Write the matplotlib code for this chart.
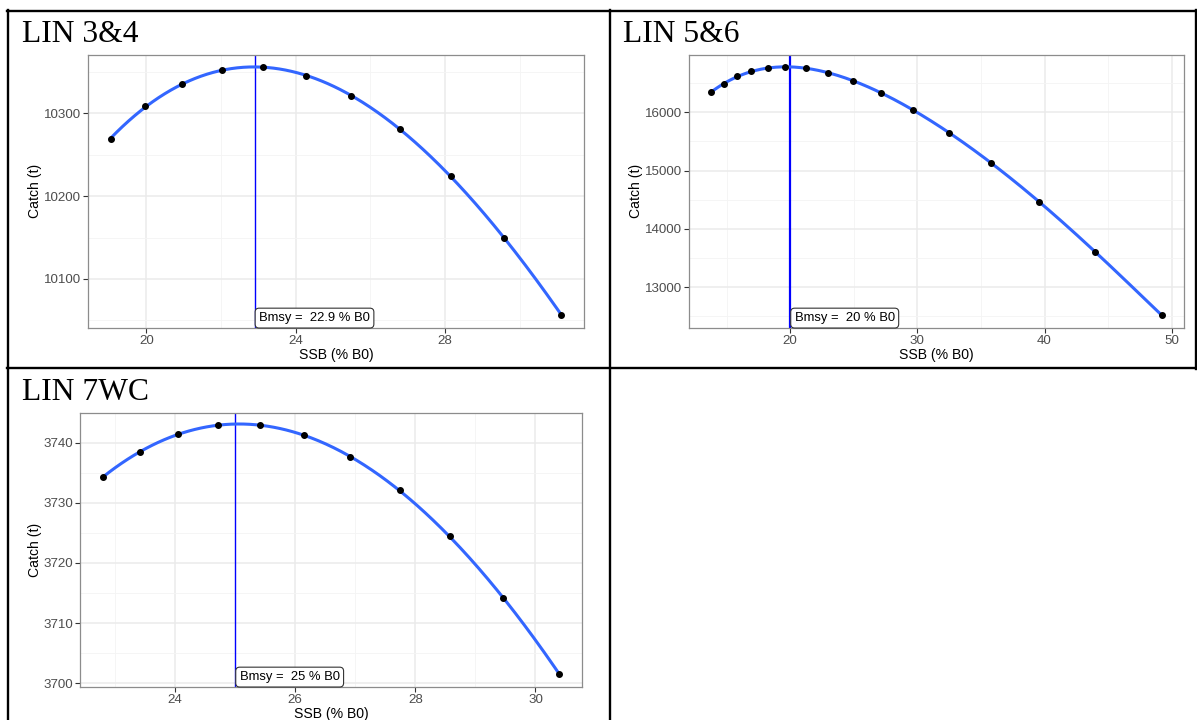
import numpy as np
import matplotlib
matplotlib.use('Agg')
import matplotlib.pyplot as plt
from matplotlib.lines import Line2D
from matplotlib.ticker import MultipleLocator

plt.rcParams['font.family'] = 'Liberation Sans'

# Data
titles = ['LIN 3&4', 'LIN 5&6', 'LIN 7WC']

lin34_ssb = [19.04, 19.97, 20.96, 22.02, 23.12, 24.27, 25.49, 26.79, 28.16, 29.59, 31.12]
lin34_catch = [10269, 10308.5, 10336, 10352, 10356, 10345.5, 10321, 10281, 10224, 10149.5, 10056]

lin56_ssb = [13.79, 14.76, 15.78, 16.94, 18.22, 19.63, 21.23, 22.96, 24.93, 27.15,
             29.64, 32.49, 35.78, 39.56, 43.98, 49.22]
lin56_catch = [16343, 16480, 16612, 16697, 16754, 16771, 16749, 16675, 16538, 16332,
               16041, 15647, 15132, 14464, 13610, 12520]

lin7wc_ssb = [22.80, 23.42, 24.05, 24.72, 25.42, 26.15, 26.91, 27.74, 28.57, 29.46, 30.40]
lin7wc_catch = [3734.3, 3738.5, 3741.4, 3742.9, 3742.9, 3741.2, 3737.6, 3732.1, 3724.4, 3714.2, 3701.5]

bmsy = [22.9, 20, 25]
bmsy_text = ['22.9', '20', '25']

W, H = 1197, 720
fig = plt.figure(figsize=(W / 100, H / 100), dpi=100)

def px_axes(left, top, right, bottom):
    return fig.add_axes([left / W, 1 - bottom / H, (right - left) / W, (bottom - top) / H])

# panel boxes in pixels: left, top, right, bottom
boxes = [(88, 54.7, 584, 327.7), (688.7, 54.7, 1184.3, 327.7), (80.3, 412.7, 582.3, 686.7)]
title_pos = [(22.5, 41.5), (623, 41.5), (22.5, 400)]
x_major = [4, 10, 2]
y_major = [100, 1000, 10]
vline_w = [1.0, 1.6, 1.0]
fit_deg = [3, 5, 3]

series = [(lin34_ssb, lin34_catch), (lin56_ssb, lin56_catch), (lin7wc_ssb, lin7wc_catch)]

for i, (x, y) in enumerate(series):
    x = np.array(x)
    y = np.array(y)
    ax = px_axes(*boxes[i])

    # ggplot-like 5% expansion
    xr = x.max() - x.min()
    yr = y.max() - y.min()
    ax.set_xlim(x.min() - 0.05 * xr, x.max() + 0.05 * xr)
    ax.set_ylim(y.min() - 0.05 * yr, y.max() + 0.05 * yr)

    ax.xaxis.set_major_locator(MultipleLocator(x_major[i]))
    ax.xaxis.set_minor_locator(MultipleLocator(x_major[i] / 2))
    ax.yaxis.set_major_locator(MultipleLocator(y_major[i]))
    ax.yaxis.set_minor_locator(MultipleLocator(y_major[i] / 2))
    ax.grid(which='major', color='#EBEBEB', lw=1.1)
    ax.grid(which='minor', color='#F4F4F4', lw=0.6)
    ax.set_axisbelow(True)
    ax.tick_params(which='minor', length=0)
    ax.tick_params(which='major', length=3.5, width=0.8, color='#333333',
                   labelcolor='#4D4D4D', labelsize=9.6, pad=1.5)
    for s in ax.spines.values():
        s.set_color('#8C8C8C')
        s.set_linewidth(0.9)

    # smooth fit through the points (like geom_smooth)
    coef = np.polyfit(x, y, fit_deg[i])
    xs = np.linspace(x.min(), x.max(), 300)
    ax.plot(xs, np.polyval(coef, xs), color='#3366FF', lw=2.2, zorder=3)
    ax.scatter(x, y, s=16, color='black', zorder=4)

    ax.axvline(bmsy[i], color='#0000FF', lw=vline_w[i], zorder=2)
    ax.annotate('Bmsy =  ' + bmsy_text[i] + ' % B0', xy=(bmsy[i], 0),
                xycoords=('data', 'axes fraction'), xytext=(3.2, 2.6),
                textcoords='offset points', ha='left', va='bottom', fontsize=9.4,
                color='black', zorder=5,
                bbox=dict(boxstyle='round,pad=0.3,rounding_size=0.3', fc='white',
                          ec='#333333', lw=0.8))

    ax.set_xlabel('SSB (% B0)', fontsize=10.1, labelpad=1)
    ax.set_ylabel('Catch (t)', fontsize=10.1, labelpad=1.5)

    tx, ty = title_pos[i]
    fig.text(tx / W, 1 - ty / H, titles[i], family='Liberation Serif', fontsize=22.7,
             ha='left', va='baseline')

# table borders
def hline(y, x0, x1):
    fig.add_artist(Line2D([x0 / W, x1 / W], [1 - y / H, 1 - y / H], color='black', lw=1.7))

def vline(x, y0, y1):
    fig.add_artist(Line2D([x / W, x / W], [1 - y0 / H, 1 - y1 / H], color='black', lw=1.7))

hline(10.5, 7, 1197)
hline(368.5, 7, 1197)
vline(8, 10, 720)
vline(609.5, 10, 720)
vline(1196, 10, 369)

fig.savefig('out.png', dpi=100)
